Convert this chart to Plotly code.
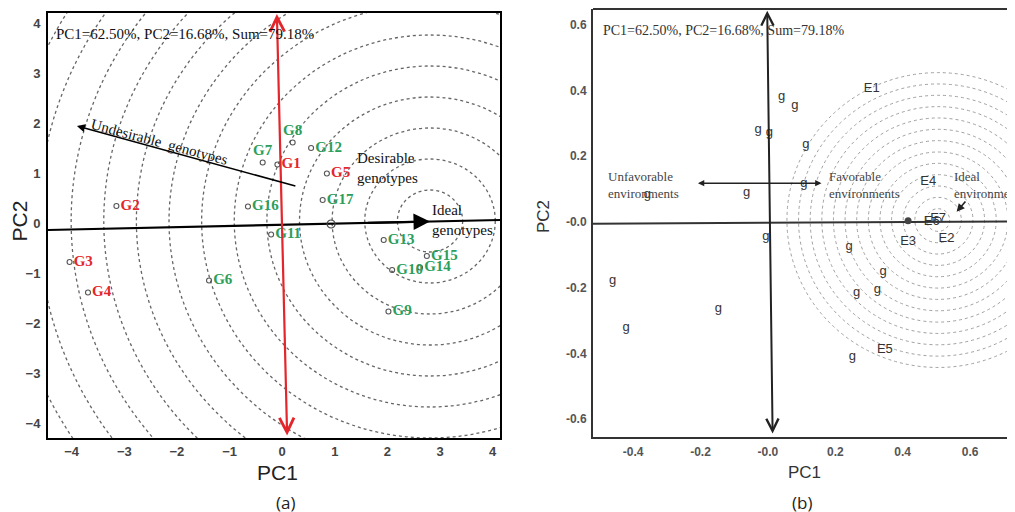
import plotly.graph_objects as go

# ---------------- Panel (a) data: genotype scores ----------------
geno_names = ["G1", "G2", "G3", "G4", "G5", "G6", "G7", "G8", "G9", "G10",
              "G11", "G12", "G13", "G14", "G15", "G16", "G17"]
geno_pc1 = [-0.09, -3.15, -4.04, -3.69, 0.85, -1.39, -0.37, 0.20, 2.02, 2.09,
            -0.21, 0.55, 1.93, 2.62, 2.75, -0.65, 0.77]
geno_pc2 = [1.17, 0.34, -0.78, -1.39, 0.99, -1.15, 1.21, 1.61, -1.77, -0.94,
            -0.23, 1.50, -0.34, -0.89, -0.66, 0.33, 0.46]
geno_group = ["red", "red", "red", "red", "red", "green", "green", "green", "green", "green",
              "green", "green", "green", "green", "green", "green", "green"]
geno_textpos = ["middle right"] * 17
geno_textpos[6] = "top center"   # G7
geno_textpos[7] = "top center"   # G8

avg_env_a = (0.93, -0.02)
ideal_geno = (2.81, 0.04)
ring_step_a = 0.62
ring_count_a = 14
aec_line_x = [-4.45, 4.14]
aec_line_y = [-0.14, 0.06]
red_axis_x = [0.095, -0.10]
red_axis_y = [-4.28, 4.18]
undesirable_arrow = [(0.28, 0.73), (-3.90, 1.94)]

x_ticks_a = [-4, -3, -2, -1, 0, 1, 2, 3, 4]
y_ticks_a = [-4, -3, -2, -1, 0, 1, 2, 3, 4]

# ---------------- Panel (b) data ----------------
g_pc1 = [0.041, 0.080, -0.029, 0.004, 0.113, 0.107, -0.063, -0.358, -0.006,
         0.241, 0.342, 0.325, 0.263, -0.461, -0.421, -0.147, 0.251]
g_pc2 = [0.380, 0.353, 0.282, 0.272, 0.234, 0.115, 0.089, 0.082, -0.045,
         -0.075, -0.151, -0.207, -0.214, -0.179, -0.321, -0.263, -0.410]
env_names = ["E1", "E2", "E3", "E4", "E5", "E6", "E7"]
env_pc1 = [0.308, 0.530, 0.416, 0.476, 0.347, 0.486, 0.505]
env_pc2 = [0.404, -0.050, -0.060, 0.123, -0.390, 0.001, 0.011]
avg_env_b = (0.416, 0.004)
ideal_env = (0.505, 0.006)
ring_step_b = 0.0345
ring_count_b = 13
b_hline_x = [-0.519, 0.757]
b_hline_y = [-0.005, 0.002]
b_vaxis_x = [0.014, -0.002]
b_vaxis_y = [-0.648, 0.643]
fav_arrow_x = [-0.212, 0.159]
fav_arrow_y = 0.118
ideal_arrow = [(0.590, 0.067), (0.560, 0.031)]

x_ticks_b = [-0.4, -0.2, 0.0, 0.2, 0.4, 0.6]
x_ticktext_b = ["-0.4", "-0.2", "-0.0", "0.2", "0.4", "0.6"]
y_ticks_b = [-0.6, -0.4, -0.2, 0.0, 0.2, 0.4, 0.6]
y_ticktext_b = ["-0.6", "-0.4", "-0.2", "-0.0", "0.2", "0.4", "0.6"]

# ---------------- styling ----------------
W, H = 1015, 512
OFF = 8  # page body margin offset in the browser


def px(v):
    return (v - OFF) / W


def py(v):
    return 1 - (v - OFF) / H


RED = "#e3262b"
GREEN = "#2b9e5a"
SERIF = "Liberation Serif"
SANS = "Liberation Sans"
group_color = {"red": RED, "green": GREEN}

fig = go.Figure()

# ---- Panel (a) traces ----
fig.add_trace(go.Scatter(x=aec_line_x, y=aec_line_y, mode="lines",
                         line=dict(color="black", width=2.2), hoverinfo="skip",
                         showlegend=False, xaxis="x", yaxis="y"))
fig.add_trace(go.Scatter(x=[avg_env_a[0]], y=[avg_env_a[1]], mode="markers",
                         marker=dict(symbol="circle-open", size=8, color="#444",
                                     line=dict(width=1.2)),
                         showlegend=False, xaxis="x", yaxis="y"))
fig.add_trace(go.Scatter(
    x=geno_pc1, y=geno_pc2, mode="markers+text", text=geno_names,
    textposition=geno_textpos,
    textfont=dict(family=SERIF, size=15, color=[group_color[g] for g in geno_group],
                  weight="bold"),
    marker=dict(symbol="circle-open", size=5, color="#555", line=dict(width=1.1)),
    showlegend=False, xaxis="x", yaxis="y", cliponaxis=False))

# ---- Panel (b) traces ----
fig.add_trace(go.Scatter(x=b_hline_x, y=b_hline_y, mode="lines",
                         line=dict(color="#333", width=2), hoverinfo="skip",
                         showlegend=False, xaxis="x2", yaxis="y2"))
fig.add_trace(go.Scatter(x=g_pc1, y=g_pc2, mode="text", text=["g"] * len(g_pc1),
                         textfont=dict(family=SANS, size=13, color="#333"),
                         showlegend=False, xaxis="x2", yaxis="y2"))
fig.add_trace(go.Scatter(x=env_pc1, y=env_pc2, mode="text", text=env_names,
                         textfont=dict(family=SANS, size=13, color="#333"),
                         showlegend=False, xaxis="x2", yaxis="y2"))
fig.add_trace(go.Scatter(x=[avg_env_b[0]], y=[avg_env_b[1]], mode="markers",
                         marker=dict(symbol="circle", size=7, color="#444"),
                         showlegend=False, xaxis="x2", yaxis="y2"))
fig.add_trace(go.Scatter(x=[ideal_env[0]], y=[ideal_env[1]], mode="markers",
                         marker=dict(symbol="circle-open", size=6, color="#444",
                                     line=dict(width=1)),
                         showlegend=False, xaxis="x2", yaxis="y2"))

shapes = []
for k in range(1, ring_count_a + 1):
    r = k * ring_step_a
    shapes.append(dict(type="circle", xref="x", yref="y",
                       x0=ideal_geno[0] - r, x1=ideal_geno[0] + r,
                       y0=ideal_geno[1] - r, y1=ideal_geno[1] + r,
                       line=dict(color="#666", width=1.3, dash="dot"), layer="below"))
for k in range(1, ring_count_b + 1):
    r = k * ring_step_b
    shapes.append(dict(type="circle", xref="x2", yref="y2",
                       x0=ideal_env[0] - r, x1=ideal_env[0] + r,
                       y0=ideal_env[1] - r, y1=ideal_env[1] + r,
                       line=dict(color="#a0a0a0", width=1, dash="dot"), layer="below"))
# top border of panel (b)
shapes.append(dict(type="line", xref="x2 domain", yref="y2 domain",
                   x0=0, x1=1, y0=1, y1=1, line=dict(color="#333", width=2)))

annotations = []
# Panel (a) arrows
annotations.append(dict(x=red_axis_x[1], y=red_axis_y[1], ax=red_axis_x[0], ay=red_axis_y[0],
                        xref="x", yref="y", axref="x", ayref="y", text="", showarrow=True,
                        arrowhead=5, arrowside="end+start", arrowsize=1.3, arrowwidth=2.2,
                        arrowcolor=RED))
annotations.append(dict(x=ideal_geno[0], y=ideal_geno[1] - 0.01, ax=1.6, ay=0.003,
                        xref="x", yref="y", axref="x", ayref="y", text="", showarrow=True,
                        arrowhead=2, arrowsize=1.5, arrowwidth=2.2, arrowcolor="black"))
annotations.append(dict(x=undesirable_arrow[1][0], y=undesirable_arrow[1][1],
                        ax=undesirable_arrow[0][0], ay=undesirable_arrow[0][1],
                        xref="x", yref="y", axref="x", ayref="y", text="", showarrow=True,
                        arrowhead=2, arrowsize=1, arrowwidth=1.6, arrowcolor="black"))
annotations.append(dict(x=-2.33, y=1.62, xref="x", yref="y", text="Undesirable  genotypes",
                        showarrow=False, textangle=15,
                        font=dict(family=SERIF, size=15, color="#111")))
annotations.append(dict(x=1.39, y=1.11, xref="x", yref="y", text="Desirable<br>genotypes",
                        showarrow=False, xanchor="left", align="left",
                        font=dict(family=SERIF, size=15, color="#111")))
annotations.append(dict(x=2.81, y=0.07, xref="x", yref="y", text="Ideal<br>genotypes",
                        showarrow=False, xanchor="left", align="left",
                        font=dict(family=SERIF, size=15, color="#111")))
annotations.append(dict(x=-4.33, y=3.79, xref="x", yref="y",
                        text="PC1=62.50%, PC2=16.68%, Sum=79.18%",
                        showarrow=False, xanchor="left",
                        font=dict(family=SERIF, size=15, color="#111")))

# Panel (b) arrows and text
annotations.append(dict(x=b_vaxis_x[1], y=b_vaxis_y[1], ax=b_vaxis_x[0], ay=b_vaxis_y[0],
                        xref="x2", yref="y2", axref="x2", ayref="y2", text="", showarrow=True,
                        arrowhead=5, arrowside="end+start", arrowsize=1.2, arrowwidth=2,
                        arrowcolor="#222"))
annotations.append(dict(x=fav_arrow_x[1], y=fav_arrow_y, ax=fav_arrow_x[0], ay=fav_arrow_y,
                        xref="x2", yref="y2", axref="x2", ayref="y2", text="", showarrow=True,
                        arrowhead=2, arrowside="end+start", arrowsize=0.9, arrowwidth=1.4,
                        arrowcolor="#222"))
annotations.append(dict(x=ideal_arrow[1][0], y=ideal_arrow[1][1],
                        ax=ideal_arrow[0][0], ay=ideal_arrow[0][1],
                        xref="x2", yref="y2", axref="x2", ayref="y2", text="", showarrow=True,
                        arrowhead=2, arrowsize=1, arrowwidth=1.6, arrowcolor="#222"))
annotations.append(dict(x=-0.495, y=0.584, xref="x2", yref="y2",
                        text="PC1=62.50%, PC2=16.68%, Sum=79.18%",
                        showarrow=False, xanchor="left",
                        font=dict(family=SERIF, size=14, color="#333")))
annotations.append(dict(x=-0.481, y=0.113, xref="x2", yref="y2",
                        text="Unfavorable<br>environments", showarrow=False,
                        xanchor="left", align="left",
                        font=dict(family=SERIF, size=13, color="#444")))
annotations.append(dict(x=0.174, y=0.113, xref="x2", yref="y2",
                        text="Favorable<br>environments", showarrow=False,
                        xanchor="left", align="left",
                        font=dict(family=SERIF, size=13, color="#444")))
annotations.append(dict(x=0.545, y=0.113, xref="x2", yref="y2",
                        text="Ideal<br>environments", showarrow=False,
                        xanchor="left", align="left",
                        font=dict(family=SERIF, size=13, color="#444")))

# Axis titles and panel labels
def paper_label(xp, yp, text, size, color, angle=0, family=SANS):
    return dict(x=px(xp), y=py(yp), xref="paper", yref="paper", text=text,
                xanchor="center", yanchor="middle", showarrow=False, textangle=angle,
                font=dict(family=family, size=size, color=color))


annotations.append(paper_label(277, 472, "PC1", 21, "#222"))
annotations.append(paper_label(18.5, 221, "PC2", 21, "#222", angle=-90))
annotations.append(paper_label(804, 472, "PC1", 17, "#333"))
annotations.append(paper_label(543, 217, "PC2", 17, "#333", angle=-90))
annotations.append(paper_label(285, 502, "(a)", 17, "#222", family="Open Sans"))
annotations.append(paper_label(802, 502, "(b)", 17, "#222", family="Open Sans"))

tickfont_a = dict(family=SANS, size=13, color="#444", weight="bold")
tickfont_b = dict(family=SANS, size=12, color="#555", weight="bold")

fig.update_layout(
    width=W, height=H,
    margin=dict(l=0, r=0, t=0, b=0),
    paper_bgcolor="white", plot_bgcolor="white",
    showlegend=False,
    xaxis=dict(domain=[px(48), px(500)], range=[-4.45, 4.14], tickvals=x_ticks_a,
               showgrid=False, zeroline=False, showline=True, mirror=True,
               linecolor="black", linewidth=2, ticks="", ticklen=0, tickfont=tickfont_a,
               ticklabelstandoff=0, anchor="y"),
    yaxis=dict(domain=[py(438), py(13)], range=[-4.3, 4.2], tickvals=y_ticks_a,
               showgrid=False, zeroline=False, showline=True, mirror=True,
               linecolor="black", linewidth=2, ticks="", ticklen=0, tickfont=tickfont_a,
               ticklabelstandoff=3, anchor="x"),
    xaxis2=dict(domain=[px(593), 1.0], range=[-0.519, 0.757], tickvals=x_ticks_b,
                ticktext=x_ticktext_b,
                showgrid=False, zeroline=False, showline=True, mirror=False,
                linecolor="#333", linewidth=2, ticks="", ticklen=0, tickfont=tickfont_b,
                ticklabelstandoff=3, anchor="y2"),
    yaxis2=dict(domain=[py(437), py(9)], range=[-0.654, 0.648], tickvals=y_ticks_b,
                ticktext=y_ticktext_b,
                showgrid=False, zeroline=False, showline=True, mirror=False,
                linecolor="#333", linewidth=2, ticks="", ticklen=0, tickfont=tickfont_b,
                ticklabelstandoff=2, anchor="x2"),
    shapes=shapes,
    annotations=annotations,
)

fig.write_html("out.html")
